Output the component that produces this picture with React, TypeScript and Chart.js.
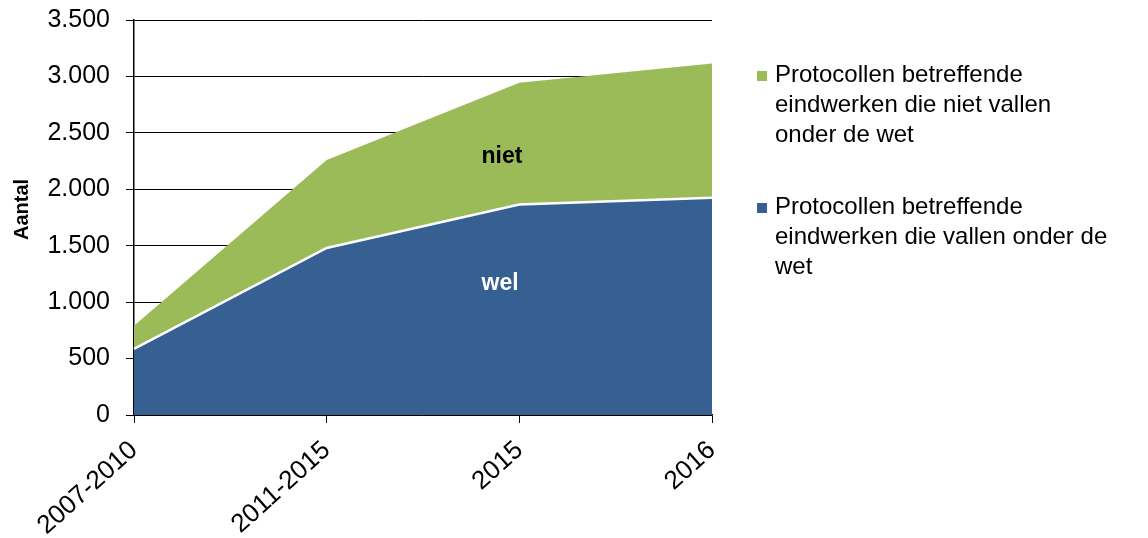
import { useEffect, useRef } from 'react';
import { Chart, registerables } from 'chart.js';

Chart.register(...registerables);

// Periods on the horizontal axis
const categories = ['2007-2010', '2011-2015', '2015', '2016'];

// Protocols for euthanasia cases that fall under the law (bottom area)
const welValues = [585, 1480, 1865, 1925];
// Protocols for cases that do not fall under the law (stacked on top)
const nietValues = [205, 780, 1080, 1190];

// Vertical axis ticks (Dutch thousands separator)
const yTickValues = [0, 500, 1000, 1500, 2000, 2500, 3000, 3500];
const yTickLabels = ['0', '500', '1.000', '1.500', '2.000', '2.500', '3.000', '3.500'];

const yTitle = 'Aantal';

// Legend entries, already wrapped into lines
const legendNietLines = ['Protocollen betreffende', 'eindwerken die niet vallen', 'onder de wet'];
const legendWelLines = ['Protocollen betreffende', 'eindwerken die vallen onder de', 'wet'];

// In-area labels, anchored in data coordinates (category index, value)
const areaLabelTexts = ['niet', 'wel'];
const areaLabelIndex = [1.91, 1.9];
const areaLabelValue = [2290, 1165];

const BLUE = '#376092';
const GREEN = '#9bbb59';
const FONT = '"Liberation Sans", Arial, sans-serif';

const overlayPlugin = {
  id: 'overlayText',
  afterDraw(chart: any) {
    const { ctx, chartArea, scales } = chart;
    const x = scales.x;
    const y = scales.y;
    ctx.save();

    // labels inside the stacked areas
    ctx.font = `bold 23px ${FONT}`;
    ctx.textAlign = 'center';
    ctx.textBaseline = 'middle';
    areaLabelTexts.forEach((t, i) => {
      ctx.fillStyle = i === 0 ? '#000000' : '#ffffff';
      ctx.fillText(t, x.getPixelForValue(areaLabelIndex[i]), y.getPixelForValue(areaLabelValue[i]));
    });

    // rotated axis title
    ctx.save();
    ctx.translate(28, chartArea.top + (chartArea.bottom - chartArea.top) / 2 - 8);
    ctx.rotate(-Math.PI / 2);
    ctx.font = `bold 20px ${FONT}`;
    ctx.fillStyle = '#000000';
    ctx.textAlign = 'center';
    ctx.textBaseline = 'alphabetic';
    ctx.fillText(yTitle, 0, 0);
    ctx.restore();

    // legend at the right of the plot
    const boxX = chartArea.right + 45;
    const textX = chartArea.right + 63;
    const lineH = 30;
    const items = [
      { color: GREEN, lines: legendNietLines, baseline: 82 },
      { color: BLUE, lines: legendWelLines, baseline: 214 },
    ];
    ctx.font = `24px ${FONT}`;
    ctx.textAlign = 'left';
    ctx.textBaseline = 'alphabetic';
    items.forEach((item) => {
      ctx.fillStyle = item.color;
      ctx.fillRect(boxX, item.baseline - 11, 10, 10);
      ctx.fillStyle = '#000000';
      item.lines.forEach((line, k) => {
        ctx.fillText(line, textX, item.baseline + k * lineH);
      });
    });

    ctx.restore();
  },
};

export default function App() {
  const canvasRef = useRef<HTMLCanvasElement | null>(null);

  useEffect(() => {
    const canvas = canvasRef.current;
    if (!canvas) return;

    const chart = new Chart(canvas, {
      type: 'line',
      data: {
        labels: categories,
        datasets: [
          {
            label: 'wel',
            data: welValues,
            backgroundColor: BLUE,
            borderColor: '#ffffff',
            borderWidth: 2.5,
            fill: 'origin',
            pointRadius: 0,
            tension: 0,
          },
          {
            label: 'niet',
            data: nietValues,
            backgroundColor: GREEN,
            borderColor: GREEN,
            borderWidth: 0,
            fill: '-1',
            pointRadius: 0,
            tension: 0,
          },
        ],
      },
      options: {
        responsive: false,
        animation: false,
        events: [],
        layout: {
          padding: { top: 20, right: 436, bottom: 0, left: 0 },
        },
        plugins: {
          legend: { display: false },
          tooltip: { enabled: false },
        },
        scales: {
          x: {
            type: 'category',
            offset: false,
            grid: {
              drawOnChartArea: false,
              drawTicks: true,
              tickLength: 8,
              color: '#000000',
              lineWidth: 1,
            },
            border: { display: true, color: '#000000', width: 1.5 },
            ticks: {
              color: '#000000',
              font: { family: FONT, size: 26 },
              minRotation: 42,
              maxRotation: 42,
              padding: 12,
              autoSkip: false,
            },
            afterFit(scale: any) {
              scale.height = 123;
            },
          },
          y: {
            stacked: true,
            min: 0,
            max: 3500,
            grid: {
              color: '#000000',
              lineWidth: 1,
              tickLength: 8,
              drawTicks: true,
            },
            border: { display: true, color: '#000000', width: 1.5 },
            ticks: {
              stepSize: 500,
              color: '#000000',
              font: { family: FONT, size: 25 },
              padding: 16,
              callback: (v: any) => {
                const i = yTickValues.indexOf(Number(v));
                return i >= 0 ? yTickLabels[i] : '';
              },
            },
            afterFit(scale: any) {
              scale.width = 134;
              // the top/bottom labels may overhang the plot area
              scale.paddingTop = 0;
              scale.paddingBottom = 0;
            },
          },
        },
      },
      plugins: [overlayPlugin],
    });

    return () => chart.destroy();
  }, []);

  return (
    <div style={{ position: 'fixed', left: 0, top: 0, width: 1148, height: 538, background: '#ffffff' }}>
      <canvas ref={canvasRef} width={1148} height={538} />
    </div>
  );
}
